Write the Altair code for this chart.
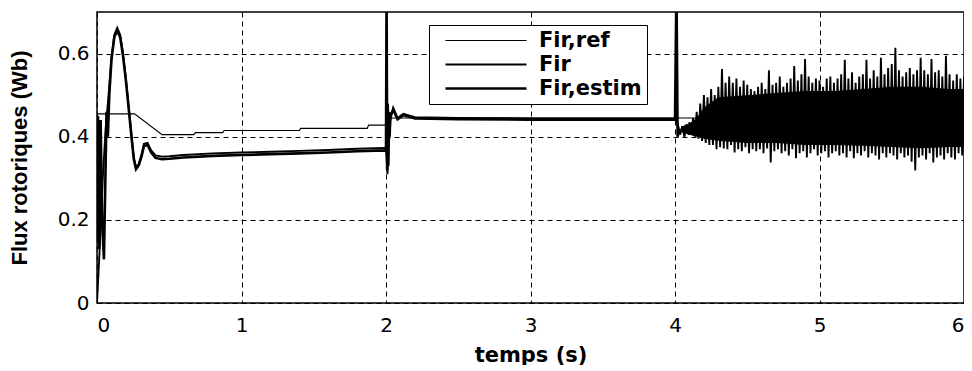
import altair as alt
import pandas as pd
import numpy as np

# ---- Fir,ref (reference flux) ----
ref_t = [0.0, 0.26, 0.45, 0.67, 0.68, 0.87, 0.88, 1.40, 1.41, 1.87, 1.88, 2.0, 2.01, 6.0]
ref_v = [0.455, 0.455, 0.405, 0.405, 0.41, 0.41, 0.415, 0.415, 0.42, 0.42, 0.428, 0.428, 0.445, 0.445]

# ---- Fir (rotor flux) ----
fir_t = [0.0, 0.02, 0.04, 0.06, 0.08, 0.10, 0.12, 0.14, 0.16, 0.18, 0.20, 0.22, 0.24, 0.255,
         0.27, 0.29, 0.31, 0.325, 0.35, 0.375, 0.405, 0.45, 0.5, 0.6, 0.8, 1.0, 1.2, 1.4, 1.6,
         1.8, 1.99, 2.0, 2.01, 2.02, 2.03, 2.05, 2.08, 2.12, 2.2, 2.5, 3.0, 3.5, 4.0, 4.02,
         4.035, 4.05, 4.065, 4.08, 4.095]
fir_v = [0.0, 0.14, 0.30, 0.42, 0.50, 0.59, 0.645, 0.662, 0.645, 0.60, 0.54, 0.47, 0.40, 0.35,
         0.326, 0.335, 0.36, 0.383, 0.385, 0.367, 0.355, 0.352, 0.353, 0.356, 0.36, 0.362, 0.364,
         0.366, 0.368, 0.371, 0.373, 0.37, 0.31, 0.38, 0.44, 0.47, 0.445, 0.455, 0.447, 0.445,
         0.444, 0.444, 0.444, 0.43, 0.405, 0.425, 0.40, 0.43, 0.405]

# oscillating part of Fir after t = 4.1 s: upper and lower swing values (step 0.025 s)
noise_t0 = 4.1
noise_dt = 0.025
noise_hi = [0.435, 0.445, 0.46, 0.48, 0.50, 0.495, 0.515, 0.50, 0.52, 0.563, 0.53, 0.545, 0.53,
            0.54, 0.52, 0.535, 0.525, 0.515, 0.51, 0.52, 0.53, 0.515, 0.56, 0.525, 0.53, 0.545,
            0.52, 0.53, 0.54, 0.57, 0.535, 0.55, 0.587, 0.545, 0.53, 0.54, 0.535, 0.52, 0.54,
            0.545, 0.53, 0.54, 0.55, 0.585, 0.54, 0.555, 0.53, 0.545, 0.55, 0.585, 0.54, 0.56,
            0.545, 0.59, 0.55, 0.565, 0.575, 0.614, 0.56, 0.545, 0.555, 0.565, 0.55, 0.56, 0.59,
            0.56, 0.55, 0.587, 0.555, 0.56, 0.545, 0.595, 0.55, 0.535, 0.55, 0.54, 0.545]
noise_lo = [0.405, 0.40, 0.395, 0.39, 0.385, 0.38, 0.38, 0.37, 0.375, 0.372, 0.37, 0.38, 0.362,
            0.37, 0.365, 0.375, 0.36, 0.37, 0.365, 0.37, 0.36, 0.372, 0.338, 0.365, 0.37, 0.36,
            0.365, 0.355, 0.37, 0.348, 0.36, 0.365, 0.35, 0.36, 0.37, 0.355, 0.36, 0.365, 0.35,
            0.36, 0.365, 0.355, 0.36, 0.35, 0.365, 0.348, 0.36, 0.355, 0.365, 0.35, 0.36, 0.355,
            0.345, 0.36, 0.35, 0.36, 0.355, 0.345, 0.36, 0.35, 0.355, 0.34, 0.319, 0.35, 0.355,
            0.345, 0.36, 0.338, 0.35, 0.355, 0.345, 0.36, 0.35, 0.345, 0.36, 0.355, 0.35]

# dense (solid black) core of the oscillation band after t = 4 s
core_t = [4.05, 4.1, 4.15, 4.2, 4.3, 4.5, 4.7, 4.9, 5.1, 5.3, 5.5, 5.7, 5.9, 6.0]
core_hi = [0.425, 0.432, 0.445, 0.47, 0.495, 0.50, 0.505, 0.51, 0.51, 0.515, 0.52, 0.52, 0.515, 0.515]
core_lo = [0.41, 0.405, 0.40, 0.395, 0.39, 0.385, 0.385, 0.38, 0.38, 0.378, 0.375, 0.372, 0.375, 0.375]

# ---- Fir,estim (estimated flux) ----
est_t = [0.0, 0.007, 0.015, 0.025, 0.035, 0.048, 0.058, 0.066, 0.075, 0.085, 0.10, 0.12, 0.14,
         0.16, 0.18, 0.20, 0.22, 0.24, 0.255, 0.27, 0.29, 0.31, 0.325, 0.35, 0.375, 0.405, 0.45,
         0.5, 0.6, 0.8, 1.0, 1.2, 1.4, 1.6, 1.8, 1.99, 2.0, 2.004, 2.008, 2.012, 2.016, 2.02,
         2.025, 2.03, 2.05, 2.08, 2.12, 2.2, 2.5, 3.0, 3.5, 4.0, 4.01, 4.018, 4.03]
est_v = [0.15, 0.45, 0.13, 0.44, 0.2, 0.105, 0.3, 0.46, 0.40, 0.50, 0.585, 0.64, 0.655, 0.64,
         0.595, 0.535, 0.465, 0.395, 0.345, 0.322, 0.332, 0.355, 0.378, 0.38, 0.362, 0.349, 0.346,
         0.347, 0.35, 0.354, 0.356, 0.358, 0.36, 0.362, 0.365, 0.367, 0.365, 0.76, 0.32, 0.48,
         0.33, 0.46, 0.40, 0.45, 0.465, 0.442, 0.452, 0.444, 0.442, 0.441, 0.441, 0.441, 0.76,
         0.40, 0.42]

series_names = ["Fir,ref", "Fir", "Fir,estim"]
series_widths = [1.2, 2.6, 2.0]
x_ticks = [0, 1, 2, 3, 4, 5, 6]
y_ticks = [0, 0.2, 0.4, 0.6]

# build table
rows = []
for t, v in zip(ref_t, ref_v):
    rows.append({"s": "Fir,ref", "t": t, "v": v})
for t, v in zip(fir_t, fir_v):
    rows.append({"s": "Fir", "t": t, "v": v})
for i, (hi, lo) in enumerate(zip(noise_hi, noise_lo)):
    t = noise_t0 + i * noise_dt
    rows.append({"s": "Fir", "t": round(t, 4), "v": hi})
    rows.append({"s": "Fir", "t": round(t + noise_dt / 2, 4), "v": lo})
for t, v in zip(est_t, est_v):
    rows.append({"s": "Fir,estim", "t": t, "v": v})
df = pd.DataFrame(rows)
df["w"] = df["s"]

core_df = pd.DataFrame({"t": core_t, "hi": core_hi, "lo": core_lo})

x_enc = alt.X("t:Q", scale=alt.Scale(domain=[0, 6], nice=False),
              axis=alt.Axis(values=x_ticks, title="temps (s)", format="d"))
y_axis = alt.Axis(values=y_ticks, title="Flux rotoriques (Wb)", format="~g")

core = alt.Chart(core_df).mark_area(color="black", clip=True).encode(
    x=x_enc,
    y=alt.Y("lo:Q", scale=alt.Scale(domain=[0, 0.7], nice=False), axis=y_axis),
    y2="hi:Q",
)

lines = alt.Chart(df).mark_line(clip=True).encode(
    x=x_enc,
    y=alt.Y("v:Q", scale=alt.Scale(domain=[0, 0.7], nice=False), axis=y_axis),
    color=alt.Color("s:N", sort=series_names,
                    scale=alt.Scale(domain=series_names, range=["black", "black", "black"]),
                    legend=alt.Legend(title=None, orient="none", legendX=332, legendY=13,
                                      symbolType="stroke", symbolSize=6561,
                                      symbolStrokeWidth=1.6, symbolStrokeColor="black",
                                      clipHeight=21, labelFont="DejaVu Sans",
                                      labelFontWeight="bold", labelFontSize=21,
                                      labelColor="black", strokeColor="black",
                                      fillColor="white", padding=5, symbolOffset=10,
                                      labelOffset=11, rowPadding=2,
                                      labelExpr="datum.label + '\u00a0'")),
    strokeWidth=alt.StrokeWidth("w:N", scale=alt.Scale(domain=series_names, range=series_widths),
                                legend=None),
    order=alt.Order("t:Q"),
    detail="s:N",
)

chart = alt.layer(core, lines).properties(
    width=867, height=291, background="white",
    padding={"left": 0, "top": 4, "right": 0, "bottom": 0},
).configure_view(
    stroke="black", strokeWidth=1.5
).configure_axis(
    grid=True, gridColor="black", gridDash=[5, 4], gridWidth=1, gridOpacity=1,
    domain=False, ticks=False,
    labelFont="DejaVu Sans", labelFontSize=20, labelColor="black",
    titleColor="black", titleFontWeight="bold",
).configure_axisX(
    labelPadding=12, titleFont="DejaVu Sans", titleFontSize=21, titlePadding=9,
).configure_axisY(
    labelPadding=8, titleFont="Liberation Sans", titleFontSize=22, titlePadding=26,
)

chart.save("out.html", embed_options={"renderer": "svg", "actions": False})
